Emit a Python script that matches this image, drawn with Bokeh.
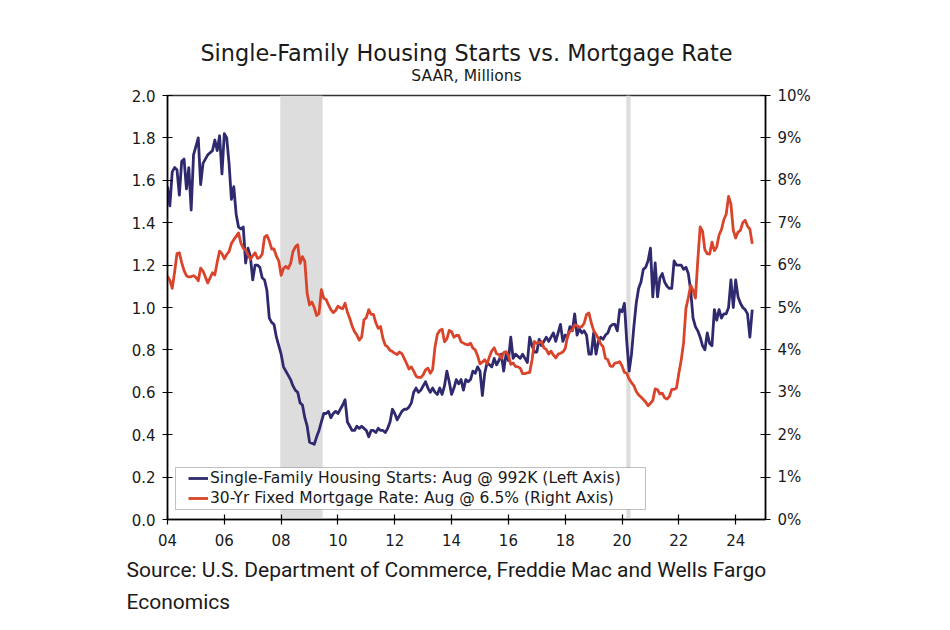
import numpy as np
from bokeh.plotting import figure
from bokeh.models import (Range1d, LinearAxis, FixedTicker, BoxAnnotation, Title,
                          Legend, LegendItem, PrintfTickFormatter)
from bokeh.embed import file_html
from bokeh.resources import INLINE

# ---------------- data (monthly, Jan 2004 - Aug 2024) ----------------
first_year = 2004
starts_2004 = [1.57, 1.48, 1.64, 1.66, 1.65, 1.53, 1.69, 1.70, 1.56, 1.66, 1.46, 1.72]
starts_2005 = [1.76, 1.80, 1.58, 1.68, 1.70, 1.72, 1.73, 1.74, 1.79, 1.74, 1.81, 1.63]
starts_2006 = [1.82, 1.80, 1.68, 1.51, 1.57, 1.44, 1.38, 1.37, 1.38, 1.21, 1.28, 1.24]
starts_2007 = [1.13, 1.20, 1.20, 1.19, 1.14, 1.13, 1.08, 0.95, 0.93, 0.92, 0.86, 0.82]
starts_2008 = [0.78, 0.72, 0.70, 0.68, 0.66, 0.63, 0.61, 0.60, 0.55, 0.54, 0.48, 0.44]
starts_2009 = [0.365, 0.36, 0.355, 0.39, 0.42, 0.46, 0.50, 0.50, 0.51, 0.48, 0.50, 0.51]
starts_2010 = [0.50, 0.52, 0.54, 0.565, 0.46, 0.44, 0.42, 0.42, 0.44, 0.43, 0.44, 0.43]
starts_2011 = [0.42, 0.39, 0.42, 0.42, 0.41, 0.43, 0.42, 0.42, 0.41, 0.43, 0.46, 0.52]
starts_2012 = [0.50, 0.47, 0.49, 0.51, 0.52, 0.52, 0.53, 0.55, 0.60, 0.62, 0.60, 0.61]
starts_2013 = [0.63, 0.65, 0.62, 0.60, 0.62, 0.60, 0.59, 0.62, 0.59, 0.63, 0.70, 0.65]
starts_2014 = [0.59, 0.62, 0.66, 0.64, 0.66, 0.61, 0.66, 0.65, 0.66, 0.70, 0.69, 0.72]
starts_2015 = [0.70, 0.585, 0.69, 0.74, 0.73, 0.72, 0.76, 0.73, 0.75, 0.78, 0.70, 0.78]
starts_2016 = [0.75, 0.86, 0.76, 0.78, 0.77, 0.76, 0.78, 0.76, 0.74, 0.86, 0.82, 0.79]
starts_2017 = [0.79, 0.85, 0.82, 0.84, 0.86, 0.84, 0.86, 0.88, 0.84, 0.88, 0.92, 0.84]
starts_2018 = [0.87, 0.86, 0.91, 0.89, 0.97, 0.87, 0.90, 0.88, 0.89, 0.87, 0.78, 0.78]
starts_2019 = [0.88, 0.78, 0.84, 0.86, 0.85, 0.87, 0.88, 0.91, 0.92, 0.92, 0.89, 0.99]
starts_2020 = [0.98, 1.02, 0.84, 0.70, 0.78, 0.91, 1.02, 1.09, 1.12, 1.18, 1.19, 1.22]
starts_2021 = [1.28, 1.05, 1.21, 1.05, 1.14, 1.16, 1.12, 1.10, 1.09, 1.09, 1.22, 1.20]
starts_2022 = [1.20, 1.20, 1.18, 1.19, 1.16, 1.08, 0.95, 0.91, 0.89, 0.86, 0.82, 0.80]
starts_2023 = [0.88, 0.83, 0.82, 0.99, 0.94, 0.99, 0.95, 0.97, 0.97, 1.00, 1.13, 1.00]
starts_2024 = [1.13, 1.05, 1.02, 1.00, 0.99, 0.97, 0.86, 0.99]

rate_2004 = [5.74, 5.64, 5.45, 5.83, 6.27, 6.29, 6.06, 5.87, 5.75, 5.72, 5.73, 5.75]
rate_2005 = [5.71, 5.63, 5.93, 5.86, 5.72, 5.58, 5.70, 5.82, 5.77, 6.07, 6.33, 6.27]
rate_2006 = [6.15, 6.25, 6.32, 6.51, 6.60, 6.68, 6.76, 6.52, 6.40, 6.36, 6.24, 6.14]
rate_2007 = [6.22, 6.29, 6.16, 6.18, 6.26, 6.66, 6.70, 6.57, 6.38, 6.38, 6.21, 6.10]
rate_2008 = [5.76, 5.92, 5.97, 5.92, 6.04, 6.32, 6.43, 6.48, 6.04, 6.20, 6.09, 5.33]
rate_2009 = [5.06, 5.13, 5.00, 4.81, 4.86, 5.42, 5.22, 5.19, 5.06, 4.95, 4.88, 4.93]
rate_2010 = [5.03, 4.99, 4.97, 5.10, 4.89, 4.74, 4.56, 4.43, 4.35, 4.23, 4.30, 4.71]
rate_2011 = [4.76, 4.95, 4.84, 4.84, 4.64, 4.51, 4.55, 4.27, 4.11, 4.07, 3.99, 3.96]
rate_2012 = [3.92, 3.89, 3.95, 3.91, 3.80, 3.68, 3.55, 3.60, 3.50, 3.38, 3.35, 3.35]
rate_2013 = [3.41, 3.53, 3.57, 3.45, 3.54, 4.07, 4.37, 4.46, 4.49, 4.19, 4.26, 4.46]
rate_2014 = [4.43, 4.30, 4.34, 4.34, 4.19, 4.16, 4.13, 4.12, 4.16, 4.04, 4.00, 3.86]
rate_2015 = [3.67, 3.71, 3.77, 3.67, 3.84, 3.98, 4.05, 3.91, 3.89, 3.80, 3.94, 3.96]
rate_2016 = [3.87, 3.66, 3.69, 3.61, 3.60, 3.57, 3.44, 3.44, 3.46, 3.47, 3.77, 4.20]
rate_2017 = [4.15, 4.17, 4.20, 4.05, 4.01, 3.90, 3.97, 3.88, 3.81, 3.90, 3.92, 3.95]
rate_2018 = [4.03, 4.33, 4.44, 4.47, 4.59, 4.57, 4.53, 4.55, 4.63, 4.83, 4.87, 4.64]
rate_2019 = [4.46, 4.37, 4.27, 4.14, 4.07, 3.80, 3.77, 3.62, 3.61, 3.69, 3.70, 3.72]
rate_2020 = [3.62, 3.47, 3.45, 3.31, 3.23, 3.16, 3.02, 2.94, 2.89, 2.83, 2.77, 2.68]
rate_2021 = [2.74, 2.81, 3.08, 3.06, 2.96, 2.98, 2.87, 2.84, 2.90, 3.07, 3.07, 3.10]
rate_2022 = [3.45, 3.76, 4.17, 4.98, 5.23, 5.52, 5.41, 5.22, 6.11, 6.90, 6.80, 6.36]
rate_2023 = [6.27, 6.26, 6.54, 6.34, 6.43, 6.71, 6.84, 7.07, 7.20, 7.62, 7.44, 6.82]
rate_2024 = [6.64, 6.78, 6.82, 7.00, 7.06, 6.92, 6.85, 6.50]

recession_start = [2007.97, 2020.15]
recession_end = [2009.46, 2020.30]

x_ticks = [2004, 2006, 2008, 2010, 2012, 2014, 2016, 2018, 2020, 2022, 2024]
x_tick_labels = ["04", "06", "08", "10", "12", "14", "16", "18", "20", "22", "24"]
left_ticks = [0.0, 0.2, 0.4, 0.6, 0.8, 1.0, 1.2, 1.4, 1.6, 1.8, 2.0]
right_ticks = [0, 1, 2, 3, 4, 5, 6, 7, 8, 9, 10]

title_text = "Single-Family Housing Starts vs. Mortgage Rate"
subtitle_text = "SAAR, Millions"
source_line1 = "Source: U.S. Department of Commerce, Freddie Mac and Wells Fargo"
source_line2 = "Economics"
legend_starts = "Single-Family Housing Starts: Aug @ 992K (Left Axis)"
legend_rate = "30-Yr Fixed Mortgage Rate: Aug @ 6.5% (Right Axis)"

# ---------------- assemble ----------------
starts = np.array(sum([starts_2004, starts_2005, starts_2006, starts_2007, starts_2008,
                       starts_2009, starts_2010, starts_2011, starts_2012, starts_2013,
                       starts_2014, starts_2015, starts_2016, starts_2017, starts_2018,
                       starts_2019, starts_2020, starts_2021, starts_2022, starts_2023,
                       starts_2024], []))
rates = np.array(sum([rate_2004, rate_2005, rate_2006, rate_2007, rate_2008, rate_2009,
                      rate_2010, rate_2011, rate_2012, rate_2013, rate_2014, rate_2015,
                      rate_2016, rate_2017, rate_2018, rate_2019, rate_2020, rate_2021,
                      rate_2022, rate_2023, rate_2024], []))
x_starts = first_year + np.arange(len(starts)) / 12.0
x_rates = first_year + np.arange(len(rates)) / 12.0

FONT = "DejaVu Sans"
BLUE = "#2f2a6e"
RED = "#d9442b"
TXT = "#1a1a1a"

p = figure(width=949, height=629, x_range=Range1d(2004, 2025.05), y_range=Range1d(0, 2.0),
           output_backend="svg", toolbar_location=None,
           min_border_left=167, min_border_right=184, min_border_top=95, min_border_bottom=110)
p.title.visible = False
p.extra_y_ranges = {"rate": Range1d(0, 10)}
p.background_fill_color = "white"
p.border_fill_color = "white"
p.grid.visible = False
p.outline_line_color = "#333333"
p.outline_line_width = 1.5

for s, e in zip(recession_start, recession_end):
    p.add_layout(BoxAnnotation(left=s, right=e, fill_color="#dddddd", fill_alpha=1.0,
                               line_alpha=0, level="underlay"))

r_starts = p.line(x_starts, starts, line_color=BLUE, line_width=2.8, line_join="round")
r_rates = p.line(x_rates, rates, line_color=RED, line_width=2.8, line_join="round",
                 y_range_name="rate")

def style_axis(ax):
    ax.axis_line_color = "black"
    ax.axis_line_width = 1.5
    ax.major_tick_line_color = "black"
    ax.major_tick_line_width = 1.2
    ax.major_tick_in = 5
    ax.major_tick_out = 5
    ax.minor_tick_line_color = None
    ax.major_label_text_font = FONT
    ax.major_label_text_font_size = "15px"
    ax.major_label_text_color = TXT
    ax.major_label_standoff = 7

xa = p.xaxis[0]
xa.ticker = FixedTicker(ticks=x_ticks)
xa.major_label_overrides = {t: l for t, l in zip(x_ticks, x_tick_labels)}
style_axis(xa)
xa.major_label_standoff = 9

ya = p.yaxis[0]
ya.ticker = FixedTicker(ticks=left_ticks)
ya.formatter = PrintfTickFormatter(format="%.1f")
style_axis(ya)

ra = LinearAxis(y_range_name="rate", ticker=FixedTicker(ticks=right_ticks),
                formatter=PrintfTickFormatter(format="%d%%"))
style_axis(ra)
p.add_layout(ra, "right")

# legend frame (white box with border), then the legend itself on top
p.add_layout(BoxAnnotation(left=8, right=478, bottom=10, top=52,
                           left_units="screen", right_units="screen",
                           bottom_units="screen", top_units="screen",
                           fill_color="white", fill_alpha=1.0,
                           line_color="#333333", line_width=1, level="annotation"))
legend = Legend(items=[LegendItem(label=legend_starts, renderers=[r_starts]),
                       LegendItem(label=legend_rate, renderers=[r_rates])],
                location=(21, 11), margin=0, padding=0, spacing=0,
                label_standoff=2, glyph_width=20, glyph_height=20, label_height=20,
                label_text_font=FONT, label_text_font_size="15.5px",
                label_text_color=TXT,
                border_line_alpha=0, background_fill_alpha=0)
p.add_layout(legend)

# titles above (first added is closest to the plot)
p.add_layout(Title(text=subtitle_text, align="center", vertical_align="top", text_font=FONT,
                   text_font_size="15.5px", text_font_style="normal", text_color=TXT,
                   standoff=18), "above")
p.add_layout(Title(text=title_text, align="center", text_font=FONT,
                   text_font_size="22.4px", text_font_style="normal", text_color=TXT,
                   standoff=-16), "above")
# source below the x axis
p.add_layout(Title(text=source_line1, align="left", offset=-41, text_font="Roboto",
                   text_font_size="21px", text_font_style="normal", text_color=TXT,
                   standoff=14), "below")
p.add_layout(Title(text=source_line2, align="left", offset=-41, text_font="Roboto",
                   text_font_size="21px", text_font_style="normal", text_color=TXT,
                   standoff=-2), "below")

open("out.html", "w").write(file_html(p, INLINE))
